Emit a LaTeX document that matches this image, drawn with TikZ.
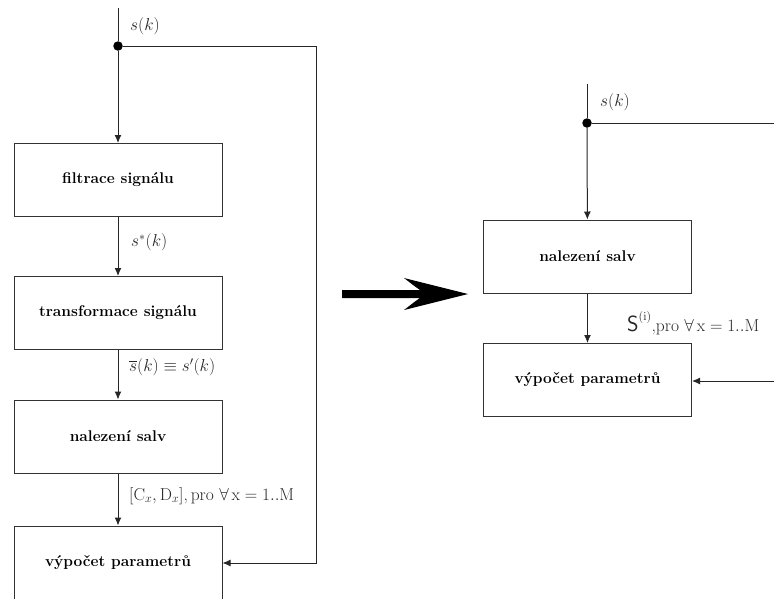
\documentclass[tikz,border=0pt]{standalone}
\usepackage{amsmath,amssymb}
\usetikzlibrary{arrows.meta}
\begin{document}
\begin{tikzpicture}[x=1pt,y=-1pt,
  box/.style={draw=black!80, line width=1pt, minimum width=208pt, minimum height=73pt, font=\fontsize{15.5}{18}\selectfont\bfseries, inner sep=0pt},
  wire/.style={draw=black!85, line width=1pt},
  conn/.style={wire, -{Latex[length=8pt,width=7pt]}},
  lab/.style={font=\fontsize{17.5}{20}\selectfont, anchor=west, inner sep=0pt, text=black!85},
  dot/.style={circle, fill=black, minimum size=9.5pt, inner sep=0pt}]
\useasboundingbox (0,0) rectangle (774,598);
% left column
\coordinate (top) at (118,8);
\node[dot] (d1) at (118,46) {};
\node[box] (b1) at (118,180) {filtrace signálu};
\node[box] (b2) at (118,313) {transformace signálu};
\node[box] (b3) at (118,436.5) {nalezení salv};
\node[box] (b4) at (118,562.5) {výpočet parametrů};
\coordinate (c1) at (316,46);
\coordinate (c2) at (316,563);
\draw[wire] (top) -- (d1);
\draw[conn] (d1) -- (b1);
\draw[conn] (b1) -- (b2);
\draw[conn] (b2) -- (b3);
\draw[conn] (b3) -- (b4);
\draw[conn] (d1) -- (c1) -- (c2) -- (b4.east |- c2);
\node[lab] (l1) at (130,26) {$s(k)$};
\node[lab] (l2) at (131,242) {$s^{*}(k)$};
\node[lab] (l3) at (129,367) {$\overline{s}(k) \equiv s'(k)$};
\node[lab] (l4) at (129,496) {$[\mathrm{C}_{x},\mathrm{D}_{x}]$,\,pro $\forall\,\mathrm{x} = 1..\mathrm{M}$};
% big arrow
\fill[black] (342,290) -- (420,290) .. controls (414,286) and (408,281) .. (404,278)
  -- (468,294) -- (404,310) .. controls (408,307) and (414,302) .. (420,298) -- (342,298) -- cycle;
% right column
\coordinate (top2) at (587,84);
\node[dot] (d2) at (587,123) {};
\coordinate (e2) at (774,123);
\node[box] (r1) at (587.5,256.5) {nalezení salv};
\node[box] (r2) at (587.5,380) {výpočet parametrů};
\coordinate (e3) at (774,381);
\draw[wire] (top2) -- (d2);
\draw[wire] (d2) -- (e2);
\draw[conn] (d2) -- (r1);
\draw[conn] (r1) -- (r2);
\draw[conn] (e3) -- (r2.east |- e3);
\node[lab] (l5) at (600,102) {$s(k)$};
\node[lab] (l6) at (627,323) {$\textsf{\fontsize{22}{24}\selectfont S}^{(\mathrm{i})}$,pro $\forall\,\mathrm{x} = 1..\mathrm{M}$};
\end{tikzpicture}
\end{document}
